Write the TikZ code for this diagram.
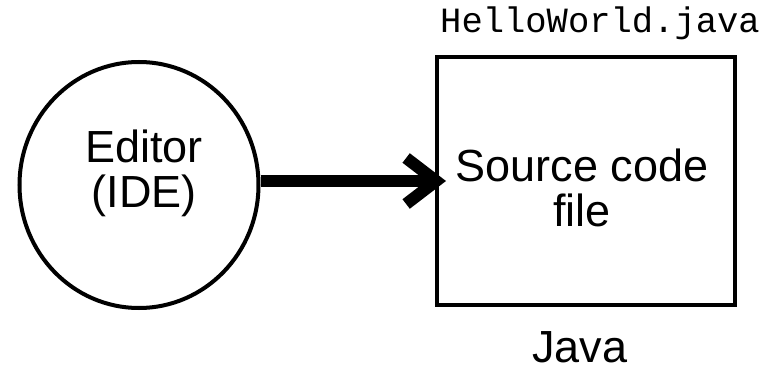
\documentclass[tikz,border=0pt]{standalone}
\usepackage{fontspec}
\setmainfont{Liberation Sans}
\setmonofont{Liberation Mono}
\usetikzlibrary{shapes.geometric,arrows.meta}
\begin{document}
\begin{tikzpicture}[x=1pt,y=1pt,
  big/.style={font=\fontsize{45}{45}\selectfont,align=center},
  outline/.style={draw,line width=4pt,inner sep=0pt}]
  \useasboundingbox (0,0) rectangle (772,370);
  \node[outline,ellipse,minimum width=239pt,minimum height=246pt] (editor) at (139,185) {};
  \node[big] (editortext) at (144,197) {Editor\\(IDE)};
  \node[outline,rectangle,minimum width=298pt,minimum height=248pt] (src) at (586,189) {};
  \node[big] (srctext) at (582,182) {Source code\\file};
  \node[anchor=base,inner sep=0pt,font=\ttfamily\fontsize{35.5}{36}\selectfont] (name) at (600,337) {HelloWorld.java};
  \node[big,anchor=base,inner sep=0pt] (lang) at (580,8) {Java};
  \draw[line width=12pt,-{Straight Barb[length=30pt,width=46pt]},shorten >=-11pt]
    (src.west -| editor.east) -- (src.west);
\end{tikzpicture}
\end{document}
